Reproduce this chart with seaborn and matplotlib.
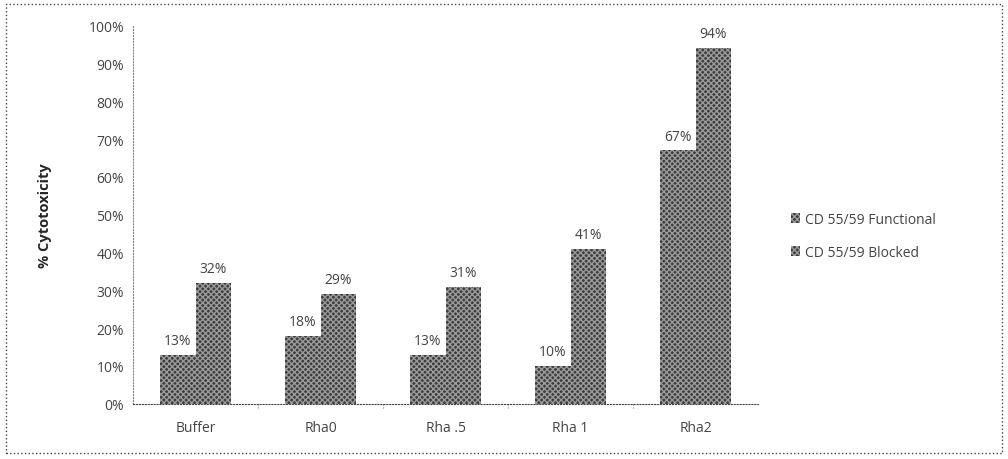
import numpy as np
import pandas as pd
import matplotlib
matplotlib.use("Agg")
import matplotlib.pyplot as plt
import seaborn as sns
from matplotlib.patches import Rectangle

categories = ["Buffer", "Rha0", "Rha .5", "Rha 1", "Rha2"]
functional = [13, 18, 13, 10, 67]
blocked = [32, 29, 31, 41, 94]
series = ["CD 55/59 Functional", "CD 55/59 Blocked"]

df = pd.DataFrame({
    "group": categories * 2,
    "series": [series[0]] * len(categories) + [series[1]] * len(categories),
    "value": functional + blocked,
})

sns.set_style("white")
plt.rcParams["font.family"] = ["Open Sans", "DejaVu Sans"]

fig = plt.figure(figsize=(10.08, 4.6), dpi=100)
ax = fig.add_axes([0.132, 0.12, 0.620, 0.822])

bar_col = "#3c3c3c"
hatch_col = "#9a9a9a"
sns.barplot(data=df, x="group", y="value", hue="series", palette=[bar_col, bar_col],
            width=0.57, gap=0, ax=ax, legend=False)

for p in ax.patches:
    p.set_hatch("xxxxxx")
    p.set_edgecolor(hatch_col)
    p.set_linewidth(0)

for cont in ax.containers:
    ax.bar_label(cont, labels=[f"{int(v)}%" for v in cont.datavalues],
                 padding=5, fontsize=10, color="#444444")

ax.set_ylim(0, 100)
ax.set_xlim(-0.5, len(categories) - 0.5)
ax.set_yticks(np.arange(0, 101, 10))
ax.set_yticklabels([f"{t}%" for t in range(0, 101, 10)], fontsize=10, color="#444444")
ax.set_xticks(range(len(categories)))
ax.set_xticklabels(categories, fontsize=10, color="#444444")
ax.tick_params(axis="x", length=0, pad=12)
ax.tick_params(axis="y", length=3, color="#888888", direction="out")
for b in np.arange(0.5, len(categories) - 0.5, 1):
    ax.plot([b, b], [0, -1.2], color="#888888", lw=0.8, ls=":", clip_on=False)
ax.set_xlabel("")
ax.set_ylabel("% Cytotoxicity", fontsize=10.5, fontweight="bold", labelpad=26)

for side in ["top", "right"]:
    ax.spines[side].set_visible(False)
ax.spines["left"].set_linestyle(":")
ax.spines["left"].set_color("#888888")
ax.spines["bottom"].set_linestyle(":")
ax.spines["bottom"].set_color("#444444")

# legend
handles = [Rectangle((0, 0), 1, 1, facecolor=bar_col, hatch="xxxxxx", edgecolor=hatch_col, lw=0)
           for _ in series]
fig.legend(handles, series, loc="upper left", bbox_to_anchor=(0.772, 0.565),
           frameon=False, fontsize=10, handlelength=0.7, handleheight=0.7,
           handletextpad=0.3, labelspacing=1.3, labelcolor="#444444")

# dotted outer frame
fig.patches.append(Rectangle((0.006, 0.012), 0.988, 0.978, transform=fig.transFigure,
                             fill=False, ls=":", lw=1, edgecolor="#444444"))

fig.savefig("out.png", dpi=100)
